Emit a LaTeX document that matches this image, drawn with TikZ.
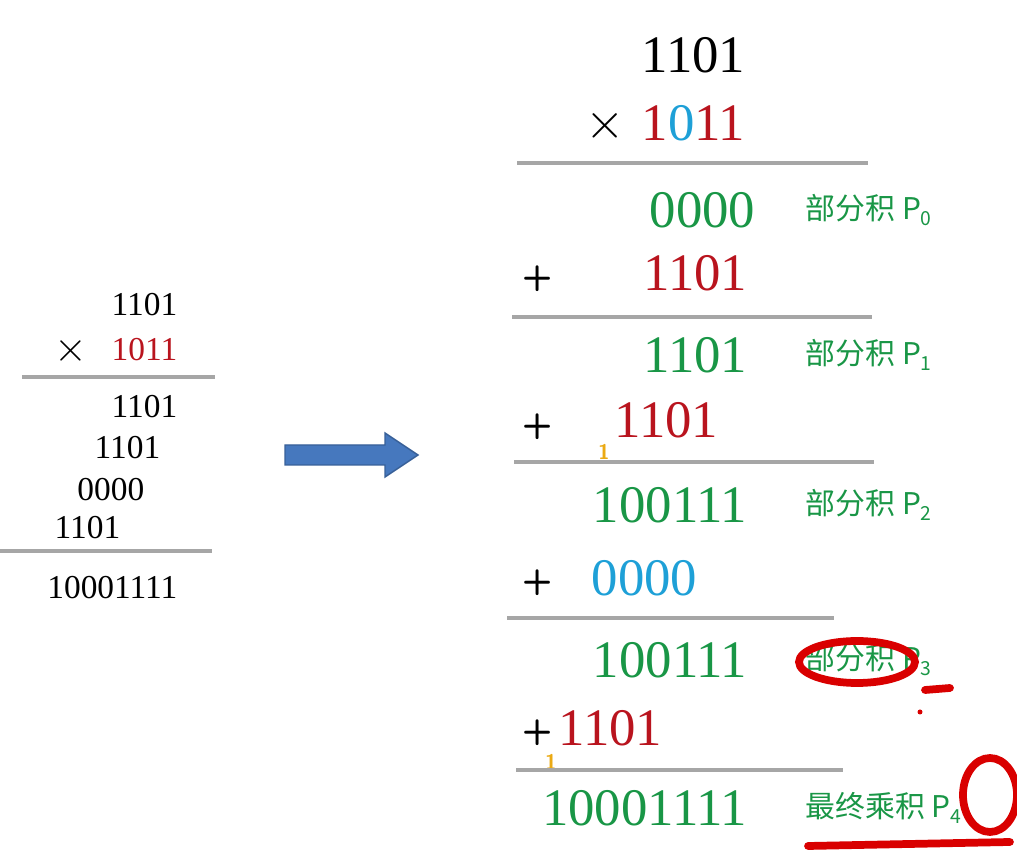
\documentclass[tikz,border=0pt]{standalone}
\usepackage{fontspec}
\setmainfont{Liberation Serif}
\newfontfamily\cjk{Noto Sans CJK SC}
\definecolor{numgreen}{RGB}{25,150,70}
\definecolor{numred}{RGB}{185,20,30}
\definecolor{numblue}{RGB}{30,160,215}
\definecolor{arrowblue}{RGB}{70,120,190}
\definecolor{carry}{RGB}{235,170,20}
\newcommand{\psub}[1]{\raisebox{-0.35ex}{\fontsize{5.5}{5.5}\selectfont #1}}
\begin{document}
\begin{tikzpicture}[x=0.01cm,y=-0.01cm,
  big/.style={anchor=base east,inner sep=0pt,font=\fontsize{15}{15}\selectfont},
  small/.style={anchor=base east,inner sep=0pt,font=\fontsize{9.5}{9.5}\selectfont},
  plus/.style={anchor=base west,inner sep=0pt,font=\sffamily\bfseries\fontsize{10}{10}\selectfont},
  lbl/.style={anchor=base west,inner sep=0pt,text=numgreen,font=\cjk\fontsize{8.5}{8.5}\selectfont},
  carrydigit/.style={inner sep=0pt,text=carry,font=\sffamily\bfseries\fontsize{6}{6}\selectfont},
  rule/.style={draw=gray!70,line width=1pt},
  ink/.style={draw=red!85!black,line width=2.2pt,line cap=round}]
\useasboundingbox (0,0) rectangle (1017,852);

% left column
\node[small] (a1) at (178,316) {1101};
\node[small,text=numred] (a2) at (178,361) {1011};
\node[small,font=\fontsize{12}{12}\selectfont] (ax) at (88,362) {$\times$};
\draw[rule] (22,377) -- (215,377);
\node[small] (b1) at (178,418) {1101};
\node[small] (b2) at (161,459) {1101};
\node[small] (b3) at (145,501) {0000};
\node[small] (b4) at (121,539) {1101};
\draw[rule] (0,551) -- (212,551);
\node[small] (b5) at (178,599) {10001111};

% arrow
\filldraw[fill=arrowblue,draw=arrowblue!80!black]
  (285,445) -- (385,445) -- (385,433) -- (418,455) -- (385,477) -- (385,465) -- (285,465) -- cycle;

% right column
\node[big] (m1) at (746,73) {1101};
\node[big] (m2) at (746,141) {{\color{numred}1}{\color{numblue}0}{\color{numred}11}};
\node[big] (mx) at (626,139) {$\times$};
\draw[rule] (517,163) -- (868,163);
\node[big,text=numgreen] (p0) at (756,228) {0000};
\node[lbl] (l0) at (805,220) {部分积 P\psub{0}};
\node[plus] (s1) at (522,288) {+};
\node[big,text=numred] (r1) at (748,291) {1101};
\draw[rule] (512,317) -- (872,317);
\node[big,text=numgreen] (p1) at (748,373) {1101};
\node[lbl] (l1) at (805,365) {部分积 P\psub{1}};
\node[plus] (s2) at (522,436) {+};
\node[big,text=numred] (r2) at (719,438) {1101};
\node[carrydigit] (c1) at (604,452) {1};
\draw[rule] (514,462) -- (874,462);
\node[big,text=numgreen] (p2) at (748,523) {100111};
\node[lbl] (l2) at (805,515) {部分积 P\psub{2}};
\node[plus] (s3) at (522,592) {+};
\node[big,text=numblue] (r3) at (698,596) {0000};
\draw[rule] (507,618) -- (834,618);
\node[big,text=numgreen] (p3) at (748,678) {100111};
\node[lbl] (l3) at (805,670) {部分积 P\psub{3}};
\node[plus] (s4) at (522,742) {+};
\node[big,text=numred] (r4) at (663,746) {1101};
\node[carrydigit] (c2) at (551,762) {1};
\draw[rule] (516,770) -- (843,770);
\node[big,text=numgreen] (p4) at (748,826) {10001111};
\node[lbl] (l4) at (805,818) {最终乘积 P\psub{4}};

% red marks
\draw[ink] (857,662) ellipse (58 and 21);
\draw[ink] (925,690) -- (950,688);
\fill[red!85!black] (920,712) circle (2.5);
\draw[ink] (990,795) ellipse (27 and 37);
\draw[ink] (808,846) -- (1010,842);
\end{tikzpicture}
\end{document}
